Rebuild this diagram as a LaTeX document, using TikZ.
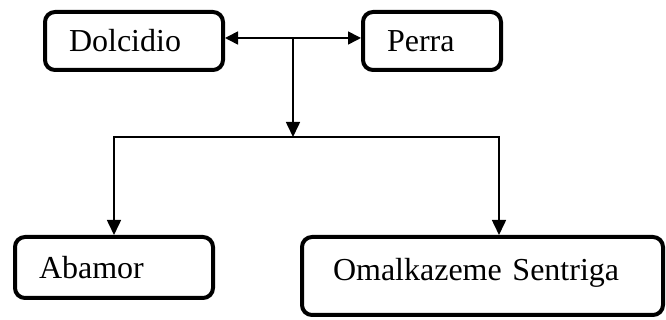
\documentclass[tikz,border=0pt]{standalone}
\usepackage{fontspec}
\setmainfont{Liberation Serif}
\usetikzlibrary{arrows.meta, positioning, calc}

\begin{document}
\begin{tikzpicture}[
        x=1pt, y=1pt,
        box/.style={rectangle, rounded corners=10pt, draw, line width=4pt, inner xsep=24pt, align=left, font=\fontsize{32}{38}\selectfont},
        arrow/.style={-{Triangle[length=15pt,width=14pt]}, line width=1.6pt},
        twoway/.style={{Triangle[length=13pt,width=13pt]}-{Triangle[length=13pt,width=13pt]}, line width=1.6pt}
    ]
    \useasboundingbox (0,0) rectangle (666,320);

    \node (dolcidio) [box, text width=130pt, minimum height=58pt] at (134,279) {Dolcidio};
    \node (perra) [box, text width=90pt, minimum height=58pt, right=136pt of dolcidio] {Perra};
    \node (abamor) [box, text width=150pt, minimum height=61pt] at (114,52.5) {Abamor};
    \node (omal) [box, text width=299pt, inner xsep=31pt, minimum height=78pt, text depth=14pt] at (482.5,44) {Omalkazeme Sentriga};

    \coordinate (mid) at ($([yshift=3pt]dolcidio.east)!0.5!([yshift=3pt]perra.west)$);
    \coordinate (split) at ($(mid)+(0,-99)$);

    \draw[twoway] ([yshift=3pt]dolcidio.east) -- ([yshift=3pt]perra.west);
    \draw[arrow] (mid) -- (split);
    \draw[arrow] (split) -| (abamor.north);
    \draw[arrow] (split) -| ([xshift=16.5pt]omal.north);
\end{tikzpicture}
\end{document}
